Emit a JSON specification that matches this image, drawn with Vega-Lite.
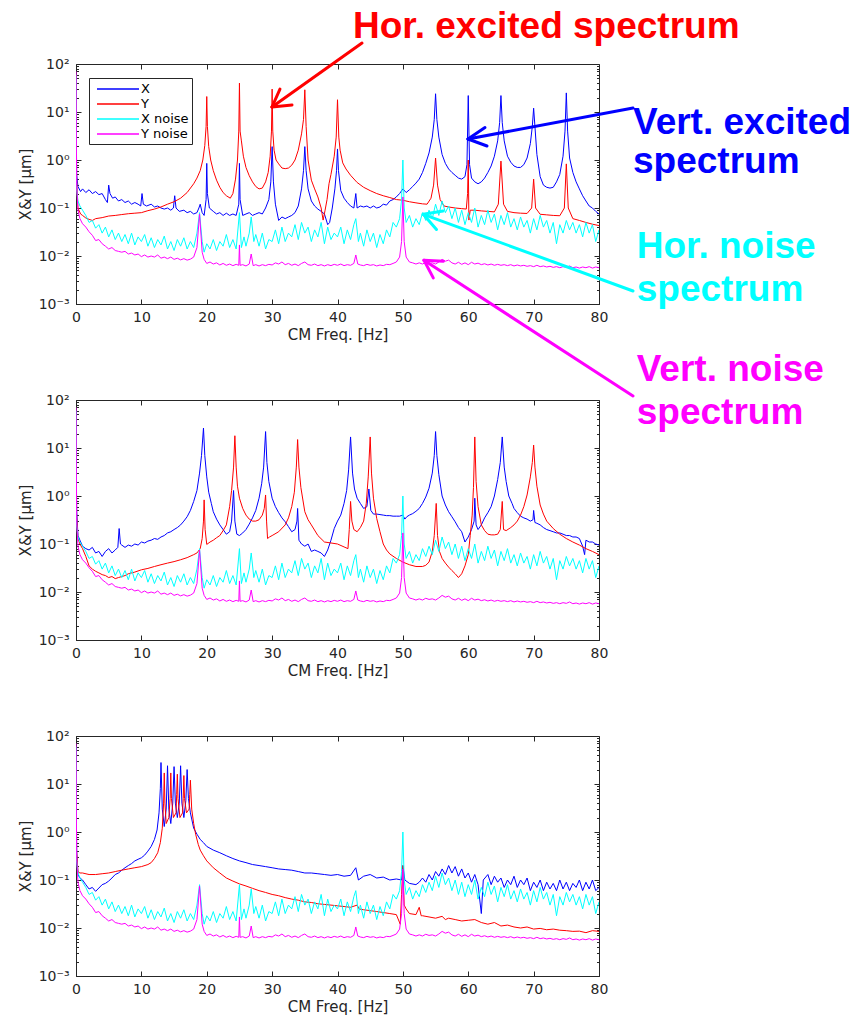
{
"$schema": "https://vega.github.io/schema/vega-lite/v6.json",
"padding": {"left": 17, "top": 7, "right": 5, "bottom": 2},
"bounds": "flush",
"spacing": 96,
"config": {
  "font": "DejaVu Sans",
  "view": {"stroke": "#262626", "strokeWidth": 1},
  "axis": {"labelFont": "DejaVu Sans", "labelFontSize": 14, "labelColor": "#262626", "titleFont": "DejaVu Sans", "titleFontSize": 15, "titleFontWeight": "normal", "titleColor": "#262626", "domainColor": "#262626", "tickColor": "#262626", "grid": false, "labelFlush": false, "labelOverlap": false}
},
"resolve": {"legend": {"stroke": "independent"}, "scale": {"stroke": "independent", "color": "independent"}},
"datasets": {
"xn": [{"f":0,"v":60},{"f":0.1,"v":0.25},{"f":0.3,"v":0.14},{"f":0.6,"v":0.11},{"f":1,"v":0.09},{"f":1.5,"v":0.07},{"f":2,"v":0.05},{"f":2.5,"v":0.055},{"f":3,"v":0.038},{"f":3.5,"v":0.045},{"f":4,"v":0.03},{"f":4.5,"v":0.04},{"f":5,"v":0.025},{"f":5.5,"v":0.035},{"f":6,"v":0.022},{"f":6.5,"v":0.03},{"f":7,"v":0.02},{"f":7.5,"v":0.028},{"f":8,"v":0.018},{"f":8.5,"v":0.03},{"f":9,"v":0.017},{"f":9.5,"v":0.025},{"f":10,"v":0.02},{"f":10.5,"v":0.028},{"f":11,"v":0.016},{"f":11.5,"v":0.024},{"f":12,"v":0.015},{"f":12.5,"v":0.022},{"f":13,"v":0.017},{"f":13.5,"v":0.026},{"f":14,"v":0.014},{"f":14.5,"v":0.02},{"f":15,"v":0.013},{"f":15.5,"v":0.022},{"f":16,"v":0.016},{"f":16.5,"v":0.024},{"f":17,"v":0.014},{"f":17.5,"v":0.02},{"f":18,"v":0.015},{"f":18.5,"v":0.03},{"f":18.9,"v":0.08},{"f":19.3,"v":0.02},{"f":19.6,"v":0.012},{"f":20,"v":0.018},{"f":20.5,"v":0.014},{"f":21,"v":0.022},{"f":21.5,"v":0.013},{"f":22,"v":0.02},{"f":22.5,"v":0.016},{"f":23,"v":0.028},{"f":23.5,"v":0.015},{"f":24,"v":0.022},{"f":24.5,"v":0.014},{"f":25,"v":0.08},{"f":25.3,"v":0.015},{"f":25.7,"v":0.025},{"f":26,"v":0.016},{"f":26.5,"v":0.03},{"f":26.8,"v":0.065},{"f":27.2,"v":0.02},{"f":27.5,"v":0.028},{"f":28,"v":0.016},{"f":28.5,"v":0.03},{"f":29,"v":0.014},{"f":29.5,"v":0.022},{"f":30,"v":0.02},{"f":30.5,"v":0.035},{"f":31,"v":0.018},{"f":31.5,"v":0.04},{"f":32,"v":0.02},{"f":32.5,"v":0.03},{"f":33,"v":0.025},{"f":33.5,"v":0.045},{"f":34,"v":0.022},{"f":34.5,"v":0.05},{"f":35,"v":0.03},{"f":35.5,"v":0.04},{"f":36,"v":0.02},{"f":36.5,"v":0.035},{"f":37,"v":0.025},{"f":37.5,"v":0.05},{"f":38,"v":0.018},{"f":38.5,"v":0.04},{"f":39,"v":0.022},{"f":39.5,"v":0.03},{"f":40,"v":0.025},{"f":40.5,"v":0.04},{"f":41,"v":0.018},{"f":41.5,"v":0.035},{"f":42,"v":0.022},{"f":42.5,"v":0.045},{"f":42.8,"v":0.06},{"f":43.2,"v":0.02},{"f":43.5,"v":0.03},{"f":44,"v":0.016},{"f":44.5,"v":0.035},{"f":45,"v":0.02},{"f":45.5,"v":0.03},{"f":46,"v":0.015},{"f":46.5,"v":0.028},{"f":47,"v":0.018},{"f":47.5,"v":0.035},{"f":48,"v":0.025},{"f":48.5,"v":0.05},{"f":49,"v":0.04},{"f":49.5,"v":0.06},{"f":49.8,"v":0.15},{"f":50,"v":1.0},{"f":50.2,"v":0.1},{"f":50.5,"v":0.05},{"f":51,"v":0.07},{"f":51.5,"v":0.04},{"f":52,"v":0.06},{"f":52.5,"v":0.045},{"f":53,"v":0.08},{"f":53.5,"v":0.055},{"f":54,"v":0.09},{"f":54.5,"v":0.06},{"f":55,"v":0.12},{"f":55.5,"v":0.07},{"f":56,"v":0.14},{"f":56.5,"v":0.08},{"f":57,"v":0.11},{"f":57.5,"v":0.06},{"f":58,"v":0.1},{"f":58.5,"v":0.05},{"f":59,"v":0.09},{"f":59.5,"v":0.045},{"f":60,"v":0.08},{"f":60.5,"v":0.05},{"f":61,"v":0.1},{"f":61.5,"v":0.04},{"f":62,"v":0.07},{"f":62.5,"v":0.045},{"f":63,"v":0.09},{"f":63.5,"v":0.05},{"f":64,"v":0.075},{"f":64.5,"v":0.035},{"f":65,"v":0.07},{"f":65.5,"v":0.045},{"f":66,"v":0.08},{"f":66.5,"v":0.04},{"f":67,"v":0.06},{"f":67.5,"v":0.035},{"f":68,"v":0.065},{"f":68.5,"v":0.04},{"f":69,"v":0.055},{"f":69.5,"v":0.03},{"f":70,"v":0.06},{"f":70.5,"v":0.035},{"f":71,"v":0.07},{"f":71.5,"v":0.04},{"f":72,"v":0.055},{"f":72.5,"v":0.03},{"f":73,"v":0.05},{"f":73.5,"v":0.018},{"f":74,"v":0.045},{"f":74.5,"v":0.03},{"f":75,"v":0.055},{"f":75.5,"v":0.035},{"f":76,"v":0.05},{"f":76.5,"v":0.03},{"f":77,"v":0.045},{"f":77.5,"v":0.025},{"f":78,"v":0.05},{"f":78.5,"v":0.03},{"f":79,"v":0.045},{"f":79.5,"v":0.02},{"f":80,"v":0.035}],
"yn": [{"f":0,"v":70},{"f":0.1,"v":0.3},{"f":0.3,"v":0.09},{"f":0.6,"v":0.06},{"f":1,"v":0.047},{"f":1.5,"v":0.04},{"f":2,"v":0.032},{"f":2.5,"v":0.027},{"f":3,"v":0.021},{"f":3.5,"v":0.022},{"f":4,"v":0.018},{"f":4.5,"v":0.016},{"f":5,"v":0.014},{"f":5.5,"v":0.015},{"f":6,"v":0.013},{"f":6.5,"v":0.0125},{"f":7,"v":0.012},{"f":7.5,"v":0.0125},{"f":8,"v":0.011},{"f":8.5,"v":0.0115},{"f":9,"v":0.0105},{"f":9.5,"v":0.011},{"f":10,"v":0.0097},{"f":10.5,"v":0.0105},{"f":11,"v":0.0095},{"f":11.5,"v":0.01},{"f":12,"v":0.0095},{"f":12.5,"v":0.0105},{"f":13,"v":0.009},{"f":13.5,"v":0.0095},{"f":14,"v":0.0088},{"f":14.5,"v":0.0095},{"f":15,"v":0.0085},{"f":15.5,"v":0.009},{"f":16,"v":0.0083},{"f":16.5,"v":0.0088},{"f":17,"v":0.0082},{"f":17.5,"v":0.0086},{"f":18,"v":0.0095},{"f":18.5,"v":0.015},{"f":18.9,"v":0.075},{"f":19.3,"v":0.012},{"f":19.6,"v":0.0085},{"f":20,"v":0.007},{"f":20.5,"v":0.0075},{"f":21,"v":0.0068},{"f":21.5,"v":0.0072},{"f":22,"v":0.0065},{"f":22.5,"v":0.007},{"f":23,"v":0.0064},{"f":23.5,"v":0.0068},{"f":24,"v":0.0063},{"f":24.5,"v":0.0067},{"f":24.9,"v":0.0064},{"f":25,"v":0.017},{"f":25.1,"v":0.0064},{"f":25.5,"v":0.0066},{"f":26,"v":0.0062},{"f":26.5,"v":0.0068},{"f":26.8,"v":0.011},{"f":27.1,"v":0.0063},{"f":27.5,"v":0.0066},{"f":28,"v":0.0062},{"f":28.5,"v":0.0066},{"f":29,"v":0.0063},{"f":29.5,"v":0.0067},{"f":30,"v":0.0065},{"f":30.5,"v":0.0072},{"f":31,"v":0.0068},{"f":31.5,"v":0.0075},{"f":32,"v":0.0066},{"f":32.5,"v":0.007},{"f":33,"v":0.0064},{"f":33.5,"v":0.0068},{"f":34,"v":0.0063},{"f":34.5,"v":0.007},{"f":35,"v":0.0075},{"f":35.5,"v":0.0066},{"f":36,"v":0.0064},{"f":36.5,"v":0.0068},{"f":37,"v":0.0063},{"f":37.5,"v":0.0066},{"f":38,"v":0.0062},{"f":38.5,"v":0.0066},{"f":39,"v":0.0063},{"f":39.5,"v":0.0067},{"f":40,"v":0.0064},{"f":40.5,"v":0.0068},{"f":41,"v":0.0063},{"f":41.5,"v":0.0066},{"f":42,"v":0.0064},{"f":42.5,"v":0.007},{"f":42.8,"v":0.0105},{"f":43.1,"v":0.0068},{"f":43.5,"v":0.0065},{"f":44,"v":0.0063},{"f":44.5,"v":0.0067},{"f":45,"v":0.0064},{"f":45.5,"v":0.0066},{"f":46,"v":0.0062},{"f":46.5,"v":0.0065},{"f":47,"v":0.0063},{"f":47.5,"v":0.0067},{"f":48,"v":0.0066},{"f":48.5,"v":0.007},{"f":49,"v":0.0075},{"f":49.5,"v":0.0095},{"f":49.8,"v":0.02},{"f":50,"v":0.17},{"f":50.2,"v":0.02},{"f":50.5,"v":0.0095},{"f":51,"v":0.0075},{"f":51.5,"v":0.0072},{"f":52,"v":0.0068},{"f":52.5,"v":0.0072},{"f":53,"v":0.0068},{"f":53.5,"v":0.0074},{"f":54,"v":0.007},{"f":54.5,"v":0.0072},{"f":55,"v":0.0068},{"f":55.5,"v":0.0075},{"f":56,"v":0.0085},{"f":56.5,"v":0.0078},{"f":57,"v":0.0082},{"f":57.5,"v":0.0072},{"f":58,"v":0.0068},{"f":58.5,"v":0.0074},{"f":59,"v":0.0067},{"f":59.5,"v":0.0072},{"f":60,"v":0.0066},{"f":60.5,"v":0.0074},{"f":61,"v":0.0068},{"f":61.5,"v":0.0071},{"f":62,"v":0.0066},{"f":62.5,"v":0.0069},{"f":63,"v":0.0065},{"f":63.5,"v":0.0068},{"f":64,"v":0.0064},{"f":64.5,"v":0.0067},{"f":65,"v":0.0064},{"f":65.5,"v":0.0066},{"f":66,"v":0.0063},{"f":66.5,"v":0.0066},{"f":67,"v":0.0062},{"f":67.5,"v":0.0065},{"f":68,"v":0.0062},{"f":68.5,"v":0.0064},{"f":69,"v":0.0061},{"f":69.5,"v":0.0063},{"f":70,"v":0.006},{"f":70.5,"v":0.0064},{"f":71,"v":0.006},{"f":71.5,"v":0.0062},{"f":72,"v":0.0059},{"f":72.5,"v":0.0061},{"f":73,"v":0.0058},{"f":73.5,"v":0.006},{"f":74,"v":0.0057},{"f":74.5,"v":0.006},{"f":75,"v":0.0058},{"f":75.5,"v":0.0062},{"f":76,"v":0.0057},{"f":76.5,"v":0.0059},{"f":77,"v":0.0056},{"f":77.5,"v":0.0059},{"f":78,"v":0.0057},{"f":78.5,"v":0.006},{"f":79,"v":0.0056},{"f":79.5,"v":0.0059},{"f":80,"v":0.0057}],
"p1x": [{"f":0,"v":50},{"f":0.1,"v":0.5},{"f":0.3,"v":0.28},{"f":0.7,"v":0.22},{"f":1,"v":0.25},{"f":1.5,"v":0.21},{"f":2,"v":0.24},{"f":2.5,"v":0.2},{"f":3,"v":0.22},{"f":3.5,"v":0.19},{"f":4,"v":0.2},{"f":4.5,"v":0.15},{"f":4.8,"v":0.13},{"f":5,"v":0.3},{"f":5.2,"v":0.2},{"f":5.6,"v":0.16},{"f":6,"v":0.17},{"f":6.5,"v":0.14},{"f":7,"v":0.15},{"f":7.5,"v":0.13},{"f":8,"v":0.14},{"f":8.5,"v":0.12},{"f":9,"v":0.13},{"f":9.5,"v":0.12},{"f":9.9,"v":0.11},{"f":10.1,"v":0.2},{"f":10.3,"v":0.12},{"f":10.8,"v":0.11},{"f":11.5,"v":0.12},{"f":12,"v":0.105},{"f":12.5,"v":0.11},{"f":13,"v":0.1},{"f":13.5,"v":0.095},{"f":14,"v":0.1},{"f":14.5,"v":0.09},{"f":14.9,"v":0.1},{"f":15.1,"v":0.18},{"f":15.3,"v":0.1},{"f":15.8,"v":0.085},{"f":16.5,"v":0.09},{"f":17,"v":0.08},{"f":17.5,"v":0.085},{"f":18,"v":0.075},{"f":18.5,"v":0.08},{"f":18.8,"v":0.1},{"f":19,"v":0.12},{"f":19.3,"v":0.08},{"f":19.6,"v":0.07},{"f":19.9,"v":0.15},{"f":20,"v":0.85},{"f":20.1,"v":0.2},{"f":20.4,"v":0.1},{"f":21,"v":0.085},{"f":21.5,"v":0.075},{"f":22,"v":0.08},{"f":22.5,"v":0.07},{"f":23,"v":0.078},{"f":23.5,"v":0.07},{"f":24,"v":0.075},{"f":24.5,"v":0.07},{"f":24.9,"v":0.12},{"f":25,"v":0.85},{"f":25.1,"v":0.15},{"f":25.5,"v":0.07},{"f":26,"v":0.075},{"f":26.5,"v":0.08},{"f":27,"v":0.07},{"f":27.5,"v":0.075},{"f":28,"v":0.08},{"f":28.5,"v":0.075},{"f":29,"v":0.1},{"f":29.5,"v":0.15},{"f":29.8,"v":0.35},{"f":30,"v":1.9},{"f":30.2,"v":0.35},{"f":30.5,"v":0.12},{"f":31,"v":0.055},{"f":31.5,"v":0.065},{"f":32,"v":0.06},{"f":32.5,"v":0.065},{"f":33,"v":0.07},{"f":33.5,"v":0.08},{"f":34,"v":0.11},{"f":34.5,"v":0.25},{"f":34.8,"v":0.6},{"f":35,"v":1.9},{"f":35.2,"v":0.6},{"f":35.5,"v":0.25},{"f":36,"v":0.14},{"f":36.5,"v":0.11},{"f":37,"v":0.095},{"f":37.5,"v":0.085},{"f":38,"v":0.075},{"f":38.5,"v":0.045},{"f":38.8,"v":0.05},{"f":39.2,"v":0.1},{"f":39.6,"v":0.25},{"f":39.85,"v":0.6},{"f":40,"v":1.7},{"f":40.15,"v":0.6},{"f":40.5,"v":0.23},{"f":41,"v":0.16},{"f":41.5,"v":0.13},{"f":42,"v":0.11},{"f":42.5,"v":0.1},{"f":42.8,"v":0.2},{"f":43,"v":0.1},{"f":43.5,"v":0.11},{"f":44,"v":0.105},{"f":44.5,"v":0.11},{"f":45,"v":0.1},{"f":45.5,"v":0.11},{"f":46,"v":0.1},{"f":46.5,"v":0.105},{"f":47,"v":0.12},{"f":47.5,"v":0.115},{"f":48,"v":0.14},{"f":48.5,"v":0.15},{"f":49,"v":0.17},{"f":49.5,"v":0.2},{"f":50,"v":0.25},{"f":50.5,"v":0.21},{"f":51,"v":0.24},{"f":51.5,"v":0.28},{"f":52,"v":0.33},{"f":52.5,"v":0.4},{"f":53,"v":0.55},{"f":53.5,"v":0.85},{"f":54,"v":1.4},{"f":54.5,"v":3},{"f":54.8,"v":7},{"f":55,"v":24},{"f":55.2,"v":7},{"f":55.5,"v":3},{"f":56,"v":1.3},{"f":56.5,"v":0.85},{"f":57,"v":0.65},{"f":57.5,"v":0.55},{"f":58,"v":0.48},{"f":58.5,"v":0.42},{"f":59,"v":0.4},{"f":59.5,"v":0.45},{"f":59.8,"v":0.8},{"f":60,"v":22},{"f":60.2,"v":0.8},{"f":60.5,"v":0.42},{"f":61,"v":0.35},{"f":61.5,"v":0.32},{"f":62,"v":0.35},{"f":62.5,"v":0.42},{"f":63,"v":0.55},{"f":63.5,"v":0.75},{"f":64,"v":1.2},{"f":64.5,"v":2.5},{"f":64.8,"v":6},{"f":65,"v":22},{"f":65.2,"v":6},{"f":65.5,"v":2.5},{"f":66,"v":1.2},{"f":66.5,"v":0.9},{"f":67,"v":0.75},{"f":67.5,"v":0.7},{"f":68,"v":0.7},{"f":68.5,"v":0.8},{"f":69,"v":1.1},{"f":69.5,"v":2.2},{"f":69.8,"v":5},{"f":70,"v":12},{"f":70.2,"v":5},{"f":70.5,"v":1.3},{"f":71,"v":0.45},{"f":71.5,"v":0.3},{"f":72,"v":0.27},{"f":72.5,"v":0.26},{"f":73,"v":0.27},{"f":73.5,"v":0.35},{"f":74,"v":0.5},{"f":74.5,"v":1.2},{"f":74.8,"v":4},{"f":75,"v":25},{"f":75.2,"v":4},{"f":75.5,"v":1.1},{"f":76,"v":0.55},{"f":76.5,"v":0.35},{"f":77,"v":0.25},{"f":77.5,"v":0.18},{"f":78,"v":0.14},{"f":78.5,"v":0.11},{"f":79,"v":0.1},{"f":79.5,"v":0.085},{"f":80,"v":0.075}],
"p1y": [{"f":0,"v":60},{"f":0.1,"v":0.4},{"f":0.3,"v":0.1},{"f":0.7,"v":0.075},{"f":1,"v":0.07},{"f":1.5,"v":0.062},{"f":2,"v":0.058},{"f":2.5,"v":0.055},{"f":3,"v":0.06},{"f":4,"v":0.063},{"f":5,"v":0.068},{"f":6,"v":0.07},{"f":7,"v":0.073},{"f":8,"v":0.076},{"f":9,"v":0.078},{"f":10,"v":0.08},{"f":11,"v":0.088},{"f":12,"v":0.095},{"f":13,"v":0.105},{"f":14,"v":0.12},{"f":15,"v":0.135},{"f":16,"v":0.16},{"f":17,"v":0.21},{"f":18,"v":0.32},{"f":18.5,"v":0.42},{"f":19,"v":0.6},{"f":19.4,"v":1.0},{"f":19.7,"v":2.0},{"f":19.9,"v":5},{"f":20,"v":21},{"f":20.1,"v":5},{"f":20.3,"v":1.9},{"f":20.6,"v":1.0},{"f":21,"v":0.6},{"f":21.5,"v":0.38},{"f":22,"v":0.27},{"f":22.5,"v":0.21},{"f":23,"v":0.18},{"f":23.6,"v":0.16},{"f":24,"v":0.2},{"f":24.4,"v":0.4},{"f":24.7,"v":1},{"f":24.9,"v":4},{"f":25,"v":40},{"f":25.1,"v":4},{"f":25.3,"v":2.5},{"f":25.6,"v":1.2},{"f":26,"v":0.7},{"f":26.5,"v":0.47},{"f":27,"v":0.35},{"f":27.5,"v":0.28},{"f":28,"v":0.25},{"f":28.5,"v":0.26},{"f":29,"v":0.35},{"f":29.4,"v":0.55},{"f":29.7,"v":1.2},{"f":29.9,"v":4},{"f":30,"v":30},{"f":30.1,"v":4},{"f":30.3,"v":1.6},{"f":30.6,"v":1.0},{"f":31,"v":0.83},{"f":31.5,"v":0.68},{"f":32,"v":0.66},{"f":32.5,"v":0.68},{"f":33,"v":0.78},{"f":33.5,"v":1.0},{"f":34,"v":1.6},{"f":34.5,"v":3.5},{"f":34.8,"v":7},{"f":35,"v":29},{"f":35.2,"v":5},{"f":35.5,"v":1.0},{"f":36,"v":0.38},{"f":36.5,"v":0.25},{"f":37,"v":0.17},{"f":37.5,"v":0.1},{"f":37.8,"v":0.056},{"f":38.1,"v":0.09},{"f":38.4,"v":0.15},{"f":38.7,"v":0.32},{"f":39,"v":0.5},{"f":39.5,"v":1.2},{"f":39.8,"v":3},{"f":40,"v":18},{"f":40.2,"v":3},{"f":40.4,"v":1.6},{"f":40.8,"v":0.87},{"f":41.3,"v":0.65},{"f":42,"v":0.48},{"f":43,"v":0.34},{"f":44,"v":0.27},{"f":45,"v":0.23},{"f":46,"v":0.2},{"f":47,"v":0.18},{"f":48,"v":0.165},{"f":49,"v":0.15},{"f":50,"v":0.145},{"f":51,"v":0.135},{"f":52,"v":0.128},{"f":53,"v":0.122},{"f":53.7,"v":0.12},{"f":54.3,"v":0.16},{"f":54.7,"v":0.3},{"f":55,"v":1.1},{"f":55.3,"v":0.3},{"f":55.7,"v":0.15},{"f":56.3,"v":0.11},{"f":57,"v":0.105},{"f":58,"v":0.1},{"f":59,"v":0.097},{"f":59.7,"v":0.095},{"f":59.9,"v":0.2},{"f":60,"v":1.0},{"f":60.1,"v":0.056},{"f":60.3,"v":0.09},{"f":61,"v":0.09},{"f":62,"v":0.087},{"f":63,"v":0.085},{"f":64,"v":0.083},{"f":64.6,"v":0.12},{"f":65,"v":0.95},{"f":65.4,"v":0.12},{"f":66,"v":0.085},{"f":67,"v":0.08},{"f":68,"v":0.078},{"f":69,"v":0.077},{"f":69.7,"v":0.1},{"f":70,"v":0.4},{"f":70.3,"v":0.1},{"f":71,"v":0.074},{"f":72,"v":0.072},{"f":73,"v":0.07},{"f":74,"v":0.069},{"f":74.7,"v":0.1},{"f":75,"v":0.83},{"f":75.3,"v":0.1},{"f":76,"v":0.06},{"f":77,"v":0.055},{"f":78,"v":0.05},{"f":79,"v":0.046},{"f":80,"v":0.043}],
"p2x": [{"f":0,"v":50},{"f":0.1,"v":0.5},{"f":0.3,"v":0.15},{"f":0.6,"v":0.12},{"f":1,"v":0.09},{"f":1.5,"v":0.08},{"f":2,"v":0.075},{"f":2.5,"v":0.085},{"f":3,"v":0.065},{"f":3.5,"v":0.07},{"f":4,"v":0.055},{"f":4.5,"v":0.07},{"f":5,"v":0.08},{"f":5.5,"v":0.065},{"f":6,"v":0.075},{"f":6.4,"v":0.085},{"f":6.6,"v":0.21},{"f":6.8,"v":0.1},{"f":7,"v":0.095},{"f":7.5,"v":0.085},{"f":8,"v":0.095},{"f":8.5,"v":0.09},{"f":9,"v":0.1},{"f":9.5,"v":0.095},{"f":10,"v":0.11},{"f":10.5,"v":0.105},{"f":11,"v":0.115},{"f":11.5,"v":0.12},{"f":12,"v":0.13},{"f":12.5,"v":0.125},{"f":13,"v":0.14},{"f":13.5,"v":0.15},{"f":14,"v":0.17},{"f":14.5,"v":0.18},{"f":15,"v":0.2},{"f":15.5,"v":0.22},{"f":16,"v":0.25},{"f":16.5,"v":0.3},{"f":17,"v":0.37},{"f":17.5,"v":0.5},{"f":18,"v":0.77},{"f":18.5,"v":1.3},{"f":18.9,"v":3},{"f":19.2,"v":7},{"f":19.5,"v":26},{"f":19.7,"v":7},{"f":20,"v":2.5},{"f":20.3,"v":1.2},{"f":20.7,"v":0.7},{"f":21,"v":0.47},{"f":21.5,"v":0.33},{"f":22,"v":0.25},{"f":22.5,"v":0.2},{"f":23,"v":0.16},{"f":23.5,"v":0.18},{"f":23.8,"v":0.3},{"f":24.1,"v":1.3},{"f":24.3,"v":0.3},{"f":24.6,"v":0.16},{"f":25,"v":0.15},{"f":25.5,"v":0.17},{"f":26,"v":0.2},{"f":26.5,"v":0.26},{"f":27,"v":0.35},{"f":27.5,"v":0.5},{"f":28,"v":0.9},{"f":28.4,"v":1.8},{"f":28.7,"v":4},{"f":29,"v":22},{"f":29.2,"v":5},{"f":29.5,"v":2},{"f":30,"v":0.9},{"f":30.5,"v":0.6},{"f":31,"v":0.45},{"f":31.5,"v":0.35},{"f":32,"v":0.29},{"f":32.5,"v":0.23},{"f":33,"v":0.18},{"f":33.5,"v":0.2},{"f":33.8,"v":0.3},{"f":33.9,"v":0.55},{"f":34.1,"v":0.12},{"f":34.5,"v":0.1},{"f":35,"v":0.09},{"f":35.5,"v":0.1},{"f":36,"v":0.07},{"f":36.5,"v":0.075},{"f":37,"v":0.07},{"f":37.5,"v":0.065},{"f":38,"v":0.055},{"f":38.5,"v":0.075},{"f":39,"v":0.12},{"f":39.5,"v":0.21},{"f":40,"v":0.3},{"f":40.5,"v":0.4},{"f":41,"v":0.7},{"f":41.4,"v":1.3},{"f":41.7,"v":3.5},{"f":42,"v":17},{"f":42.3,"v":3},{"f":42.6,"v":1.4},{"f":43,"v":0.9},{"f":43.5,"v":0.7},{"f":44,"v":0.55},{"f":44.5,"v":0.6},{"f":44.8,"v":1.4},{"f":45.1,"v":0.5},{"f":45.5,"v":0.42},{"f":46,"v":0.42},{"f":46.5,"v":0.41},{"f":47,"v":0.4},{"f":47.5,"v":0.39},{"f":48,"v":0.39},{"f":48.5,"v":0.38},{"f":49,"v":0.38},{"f":49.5,"v":0.38},{"f":50,"v":0.4},{"f":50.3,"v":0.33},{"f":50.6,"v":0.37},{"f":51,"v":0.4},{"f":51.5,"v":0.43},{"f":52,"v":0.48},{"f":52.5,"v":0.55},{"f":53,"v":0.7},{"f":53.5,"v":0.95},{"f":54,"v":1.45},{"f":54.5,"v":3},{"f":54.8,"v":7},{"f":55,"v":22},{"f":55.2,"v":7},{"f":55.5,"v":2.8},{"f":56,"v":1.0},{"f":56.5,"v":0.65},{"f":57,"v":0.47},{"f":57.5,"v":0.37},{"f":58,"v":0.29},{"f":58.5,"v":0.22},{"f":59,"v":0.18},{"f":59.5,"v":0.11},{"f":60,"v":0.14},{"f":60.5,"v":0.2},{"f":60.9,"v":0.3},{"f":61,"v":0.9},{"f":61.2,"v":0.25},{"f":61.5,"v":0.2},{"f":62,"v":0.25},{"f":62.5,"v":0.35},{"f":63,"v":0.45},{"f":63.5,"v":0.6},{"f":64,"v":1.0},{"f":64.5,"v":2.2},{"f":64.9,"v":5},{"f":65.2,"v":17},{"f":65.5,"v":4},{"f":65.8,"v":2},{"f":66.2,"v":1.0},{"f":66.7,"v":0.7},{"f":67,"v":0.55},{"f":67.5,"v":0.45},{"f":68,"v":0.38},{"f":68.5,"v":0.35},{"f":69,"v":0.33},{"f":69.5,"v":0.3},{"f":69.9,"v":0.32},{"f":70,"v":0.5},{"f":70.2,"v":0.28},{"f":70.5,"v":0.27},{"f":71,"v":0.25},{"f":71.5,"v":0.22},{"f":72,"v":0.2},{"f":72.5,"v":0.19},{"f":73,"v":0.18},{"f":73.5,"v":0.17},{"f":74,"v":0.17},{"f":74.5,"v":0.16},{"f":75,"v":0.15},{"f":75.5,"v":0.15},{"f":76,"v":0.14},{"f":76.5,"v":0.14},{"f":77,"v":0.13},{"f":77.5,"v":0.09},{"f":77.8,"v":0.06},{"f":78,"v":0.12},{"f":78.5,"v":0.11},{"f":79,"v":0.11},{"f":79.5,"v":0.1},{"f":80,"v":0.095}],
"p2y": [{"f":0,"v":50},{"f":0.1,"v":0.4},{"f":0.3,"v":0.13},{"f":0.6,"v":0.1},{"f":1,"v":0.08},{"f":1.5,"v":0.055},{"f":2,"v":0.035},{"f":2.5,"v":0.03},{"f":3,"v":0.027},{"f":3.5,"v":0.025},{"f":4,"v":0.023},{"f":4.5,"v":0.022},{"f":5,"v":0.02},{"f":5.5,"v":0.021},{"f":6,"v":0.019},{"f":6.5,"v":0.02},{"f":7,"v":0.021},{"f":7.5,"v":0.022},{"f":8,"v":0.024},{"f":9,"v":0.026},{"f":10,"v":0.029},{"f":11,"v":0.031},{"f":12,"v":0.034},{"f":13,"v":0.037},{"f":14,"v":0.04},{"f":15,"v":0.043},{"f":16,"v":0.047},{"f":17,"v":0.052},{"f":18,"v":0.06},{"f":18.5,"v":0.065},{"f":19,"v":0.08},{"f":19.3,"v":0.13},{"f":19.5,"v":0.3},{"f":19.6,"v":0.83},{"f":19.75,"v":0.2},{"f":20,"v":0.098},{"f":20.5,"v":0.11},{"f":21,"v":0.12},{"f":21.5,"v":0.135},{"f":22,"v":0.15},{"f":22.5,"v":0.19},{"f":23,"v":0.25},{"f":23.5,"v":0.6},{"f":23.8,"v":1.3},{"f":24.1,"v":4},{"f":24.3,"v":18},{"f":24.5,"v":4},{"f":24.7,"v":1.6},{"f":25,"v":0.9},{"f":25.5,"v":0.55},{"f":26,"v":0.4},{"f":26.5,"v":0.33},{"f":27,"v":0.3},{"f":27.5,"v":0.3},{"f":28,"v":0.32},{"f":28.5,"v":0.4},{"f":28.8,"v":0.55},{"f":29,"v":1.05},{"f":29.15,"v":0.3},{"f":29.3,"v":0.13},{"f":29.6,"v":0.14},{"f":30,"v":0.15},{"f":31,"v":0.18},{"f":32,"v":0.25},{"f":32.5,"v":0.35},{"f":33,"v":0.6},{"f":33.4,"v":1.2},{"f":33.7,"v":4},{"f":33.9,"v":15},{"f":34.1,"v":4},{"f":34.4,"v":1.5},{"f":35,"v":0.47},{"f":35.5,"v":0.32},{"f":36,"v":0.25},{"f":37,"v":0.15},{"f":38,"v":0.11},{"f":39,"v":0.105},{"f":40,"v":0.1},{"f":41,"v":0.087},{"f":41.6,"v":0.08},{"f":41.8,"v":0.2},{"f":42,"v":0.77},{"f":42.2,"v":0.3},{"f":42.5,"v":0.2},{"f":43,"v":0.18},{"f":43.5,"v":0.22},{"f":44,"v":0.3},{"f":44.4,"v":0.7},{"f":44.7,"v":2.5},{"f":45,"v":17},{"f":45.2,"v":3},{"f":45.5,"v":0.9},{"f":46,"v":0.34},{"f":46.5,"v":0.18},{"f":47,"v":0.1},{"f":47.5,"v":0.075},{"f":48,"v":0.062},{"f":49,"v":0.05},{"f":50,"v":0.042},{"f":51,"v":0.037},{"f":52,"v":0.034},{"f":53,"v":0.034},{"f":53.5,"v":0.036},{"f":54,"v":0.042},{"f":54.5,"v":0.07},{"f":54.8,"v":0.15},{"f":55.1,"v":0.7},{"f":55.3,"v":0.15},{"f":55.6,"v":0.07},{"f":56,"v":0.05},{"f":56.5,"v":0.04},{"f":57,"v":0.033},{"f":57.5,"v":0.028},{"f":58,"v":0.024},{"f":58.5,"v":0.02},{"f":59,"v":0.024},{"f":59.5,"v":0.035},{"f":60,"v":0.06},{"f":60.3,"v":0.15},{"f":60.6,"v":0.4},{"f":60.8,"v":1.5},{"f":61,"v":17},{"f":61.2,"v":2},{"f":61.5,"v":0.6},{"f":62,"v":0.25},{"f":62.5,"v":0.19},{"f":63,"v":0.16},{"f":63.5,"v":0.155},{"f":64,"v":0.155},{"f":64.5,"v":0.16},{"f":64.9,"v":0.2},{"f":65.2,"v":0.77},{"f":65.4,"v":0.2},{"f":65.8,"v":0.19},{"f":66.5,"v":0.22},{"f":67,"v":0.25},{"f":67.5,"v":0.3},{"f":68,"v":0.4},{"f":68.5,"v":0.6},{"f":69,"v":1.05},{"f":69.5,"v":2.5},{"f":69.8,"v":5},{"f":70,"v":11.5},{"f":70.2,"v":4},{"f":70.5,"v":1.6},{"f":71,"v":0.65},{"f":71.5,"v":0.42},{"f":72,"v":0.3},{"f":73,"v":0.21},{"f":74,"v":0.16},{"f":75,"v":0.13},{"f":76,"v":0.11},{"f":77,"v":0.095},{"f":78,"v":0.08},{"f":79,"v":0.07},{"f":80,"v":0.06}],
"p3x": [{"f":0,"v":50},{"f":0.1,"v":0.4},{"f":0.3,"v":0.13},{"f":0.6,"v":0.11},{"f":1,"v":0.1},{"f":1.5,"v":0.08},{"f":2,"v":0.065},{"f":2.5,"v":0.07},{"f":3,"v":0.058},{"f":3.5,"v":0.068},{"f":4,"v":0.08},{"f":4.5,"v":0.085},{"f":5,"v":0.095},{"f":5.5,"v":0.11},{"f":6,"v":0.13},{"f":6.5,"v":0.14},{"f":7,"v":0.16},{"f":7.5,"v":0.18},{"f":8,"v":0.2},{"f":8.5,"v":0.22},{"f":9,"v":0.25},{"f":9.5,"v":0.27},{"f":10,"v":0.29},{"f":10.5,"v":0.33},{"f":11,"v":0.4},{"f":11.5,"v":0.5},{"f":12,"v":0.7},{"f":12.4,"v":1.1},{"f":12.7,"v":2.5},{"f":12.9,"v":8},{"f":13,"v":28},{"f":13.2,"v":3},{"f":13.5,"v":1.3},{"f":13.8,"v":3},{"f":14,"v":24},{"f":14.2,"v":3},{"f":14.5,"v":1.5},{"f":14.8,"v":4},{"f":15,"v":23},{"f":15.2,"v":4},{"f":15.5,"v":2},{"f":15.8,"v":4},{"f":16,"v":24},{"f":16.2,"v":4},{"f":16.5,"v":2},{"f":16.8,"v":4.5},{"f":17,"v":20},{"f":17.2,"v":5},{"f":17.5,"v":2.5},{"f":18,"v":1.2},{"f":18.5,"v":0.9},{"f":19,"v":0.7},{"f":19.5,"v":0.6},{"f":20,"v":0.5},{"f":21,"v":0.42},{"f":22,"v":0.37},{"f":23,"v":0.32},{"f":24,"v":0.28},{"f":25,"v":0.25},{"f":26,"v":0.23},{"f":27,"v":0.21},{"f":28,"v":0.2},{"f":29,"v":0.19},{"f":30,"v":0.18},{"f":31,"v":0.17},{"f":32,"v":0.165},{"f":33,"v":0.16},{"f":34,"v":0.15},{"f":35,"v":0.14},{"f":36,"v":0.14},{"f":37,"v":0.135},{"f":38,"v":0.13},{"f":39,"v":0.125},{"f":40,"v":0.13},{"f":41,"v":0.12},{"f":42,"v":0.125},{"f":42.8,"v":0.18},{"f":43.2,"v":0.1},{"f":44,"v":0.12},{"f":45,"v":0.13},{"f":46,"v":0.11},{"f":47,"v":0.115},{"f":48,"v":0.1},{"f":49,"v":0.105},{"f":49.8,"v":0.1},{"f":50,"v":0.2},{"f":50.3,"v":0.1},{"f":51,"v":0.085},{"f":52,"v":0.08},{"f":52.5,"v":0.09},{"f":53,"v":0.11},{"f":53.5,"v":0.09},{"f":54,"v":0.13},{"f":54.5,"v":0.1},{"f":55,"v":0.15},{"f":55.5,"v":0.12},{"f":56,"v":0.17},{"f":56.5,"v":0.13},{"f":57,"v":0.2},{"f":57.5,"v":0.14},{"f":58,"v":0.19},{"f":58.5,"v":0.12},{"f":59,"v":0.17},{"f":59.5,"v":0.11},{"f":60,"v":0.14},{"f":60.5,"v":0.09},{"f":61,"v":0.13},{"f":61.5,"v":0.08},{"f":62,"v":0.02},{"f":62.3,"v":0.1},{"f":63,"v":0.13},{"f":63.5,"v":0.08},{"f":64,"v":0.12},{"f":64.5,"v":0.09},{"f":65,"v":0.11},{"f":65.5,"v":0.07},{"f":66,"v":0.1},{"f":66.5,"v":0.08},{"f":67,"v":0.12},{"f":67.5,"v":0.07},{"f":68,"v":0.1},{"f":68.5,"v":0.08},{"f":69,"v":0.11},{"f":69.5,"v":0.06},{"f":70,"v":0.09},{"f":70.5,"v":0.07},{"f":71,"v":0.1},{"f":71.5,"v":0.06},{"f":72,"v":0.09},{"f":72.5,"v":0.065},{"f":73,"v":0.085},{"f":73.5,"v":0.06},{"f":74,"v":0.1},{"f":74.5,"v":0.065},{"f":75,"v":0.09},{"f":75.5,"v":0.06},{"f":76,"v":0.085},{"f":76.5,"v":0.07},{"f":77,"v":0.1},{"f":77.5,"v":0.06},{"f":78,"v":0.09},{"f":78.5,"v":0.065},{"f":79,"v":0.1},{"f":79.5,"v":0.06},{"f":80,"v":0.07}],
"p3y": [{"f":0,"v":50},{"f":0.1,"v":0.4},{"f":0.3,"v":0.15},{"f":0.6,"v":0.14},{"f":1,"v":0.14},{"f":2,"v":0.13},{"f":3,"v":0.13},{"f":4,"v":0.135},{"f":5,"v":0.14},{"f":6,"v":0.15},{"f":7,"v":0.16},{"f":8,"v":0.17},{"f":9,"v":0.18},{"f":10,"v":0.19},{"f":11,"v":0.21},{"f":11.5,"v":0.23},{"f":12,"v":0.28},{"f":12.5,"v":0.37},{"f":12.9,"v":0.6},{"f":13.2,"v":1.2},{"f":13.4,"v":4},{"f":13.5,"v":17},{"f":13.6,"v":4},{"f":13.8,"v":1.5},{"f":14.2,"v":2},{"f":14.4,"v":5},{"f":14.5,"v":17},{"f":14.6,"v":5},{"f":14.9,"v":2},{"f":15.3,"v":2.5},{"f":15.4,"v":6},{"f":15.5,"v":16},{"f":15.6,"v":5},{"f":15.9,"v":2},{"f":16.3,"v":2.5},{"f":16.4,"v":5},{"f":16.5,"v":15},{"f":16.6,"v":5},{"f":16.9,"v":2.5},{"f":17.3,"v":3},{"f":17.4,"v":6},{"f":17.5,"v":12},{"f":17.7,"v":3},{"f":18,"v":1.5},{"f":18.3,"v":0.9},{"f":18.7,"v":0.55},{"f":19,"v":0.42},{"f":19.5,"v":0.32},{"f":20,"v":0.25},{"f":21,"v":0.18},{"f":22,"v":0.14},{"f":23,"v":0.11},{"f":24,"v":0.095},{"f":25,"v":0.083},{"f":26,"v":0.075},{"f":27,"v":0.067},{"f":28,"v":0.06},{"f":29,"v":0.055},{"f":30,"v":0.05},{"f":31,"v":0.047},{"f":32,"v":0.043},{"f":33,"v":0.04},{"f":34,"v":0.038},{"f":35,"v":0.035},{"f":36,"v":0.034},{"f":37,"v":0.032},{"f":38,"v":0.031},{"f":39,"v":0.03},{"f":40,"v":0.029},{"f":41,"v":0.028},{"f":42,"v":0.027},{"f":43,"v":0.03},{"f":43.3,"v":0.025},{"f":44,"v":0.024},{"f":45,"v":0.023},{"f":46,"v":0.022},{"f":47,"v":0.021},{"f":48,"v":0.02},{"f":49,"v":0.019},{"f":49.6,"v":0.012},{"f":49.8,"v":0.05},{"f":50,"v":0.2},{"f":50.2,"v":0.03},{"f":50.5,"v":0.025},{"f":51,"v":0.02},{"f":52,"v":0.019},{"f":52.5,"v":0.027},{"f":52.8,"v":0.018},{"f":53,"v":0.018},{"f":54,"v":0.017},{"f":55,"v":0.016},{"f":56,"v":0.0175},{"f":56.5,"v":0.015},{"f":57,"v":0.016},{"f":58,"v":0.015},{"f":59,"v":0.014},{"f":60,"v":0.0145},{"f":61,"v":0.015},{"f":62,"v":0.013},{"f":63,"v":0.012},{"f":64,"v":0.013},{"f":65,"v":0.011},{"f":66,"v":0.0115},{"f":67,"v":0.0105},{"f":68,"v":0.01},{"f":69,"v":0.0105},{"f":70,"v":0.0095},{"f":71,"v":0.0098},{"f":72,"v":0.0092},{"f":73,"v":0.0095},{"f":74,"v":0.009},{"f":75,"v":0.0088},{"f":76,"v":0.0085},{"f":77,"v":0.0086},{"f":78,"v":0.008},{"f":79,"v":0.0088},{"f":80,"v":0.0085}],
"ann": [{"f":42.37,"v":348,"t":"Hor. excited spectrum","k":"hx"},{"f":85.2,"v":3.48,"t":"Vert. excited","k":"vx"},{"f":85.2,"v":0.536,"t":"spectrum","k":"vx"},{"f":85.77,"v":0.00909,"t":"Hor. noise","k":"hn"},{"f":85.77,"v":0.001155,"t":"spectrum","k":"hn"},{"f":85.77,"v":0.0000249,"t":"Vert. noise","k":"vn"},{"f":85.77,"v":0.00000316,"t":"spectrum","k":"vn"}],
"arr": [{"k":"hx","x":43.75,"y":273.8,"x2":29.98,"y2":12.71},{"k":"hx","x":33.04,"y":13.99,"x2":29.98,"y2":12.71},{"k":"hx","x":31.2,"y":30.1,"x2":29.98,"y2":12.71},{"k":"vx","x":85.2,"y":12.12,"x2":59.96,"y2":2.738},{"k":"vx","x":62.87,"y":1.957,"x2":59.96,"y2":2.738},{"k":"vx","x":62.56,"y":4.75,"x2":59.96,"y2":2.738},{"k":"hn","x":85.2,"y":0.001866,"x2":53.12,"y2":0.07396},{"k":"hn","x":55.14,"y":0.03565,"x2":53.12,"y2":0.07396},{"k":"hn","x":56.14,"y":0.0866,"x2":53.12,"y2":0.07396},{"k":"vn","x":85.2,"y":0.00001212,"x2":53.23,"y2":0.008134},{"k":"vn","x":54.65,"y":0.0035,"x2":53.23,"y2":0.008134},{"k":"vn","x":56.21,"y":0.00776,"x2":53.23,"y2":0.008134}]
},
"vconcat": [
{
 "width": 523, "height": 240,
 "resolve": {"axis": {"x": "independent", "y": "independent"}},
 "layer": [
  {"data": {"name": "p1x"}, "mark": {"type": "line", "strokeWidth": 1, "clip": true},
   "encoding": {
    "x": {"field": "f", "type": "quantitative", "scale": {"domain": [0, 80], "nice": false, "zero": false},
          "axis": {"orient": "bottom", "values": [0,10,20,30,40,50,60,70,80], "title": "CM Freq. [Hz]", "tickSize": -5, "labelPadding": 11, "titlePadding": 3}},
    "y": {"field": "v", "type": "quantitative", "scale": {"type": "log", "domain": [0.001, 100], "nice": false},
          "axis": {"orient": "left", "values": [0.001,0.002,0.003,0.004,0.005,0.006,0.007,0.008,0.009,0.01,0.02,0.03,0.04,0.05,0.06,0.07,0.08,0.09,0.1,0.2,0.3,0.4,0.5,0.6,0.7,0.8,0.9,1,2,3,4,5,6,7,8,9,10,20,30,40,50,60,70,80,90,100],
           "tickSize": {"condition": {"test": "abs(log(datum.value)/LN10 - round(log(datum.value)/LN10)) < 0.01", "value": -5}, "value": -2.5},
           "labelExpr": "abs(log(datum.value)/LN10 - round(log(datum.value)/LN10)) > 0.01 ? '' : '10' + (round(log(datum.value)/LN10) == 2 ? '²' : round(log(datum.value)/LN10) == 1 ? '¹' : round(log(datum.value)/LN10) == 0 ? '⁰' : round(log(datum.value)/LN10) == -1 ? '⁻¹' : round(log(datum.value)/LN10) == -2 ? '⁻²' : '⁻³')",
           "labelPadding": 12, "title": "X&Y [μm]", "titlePadding": 5}},
    "stroke": {"datum": "X", "type": "nominal",
       "scale": {"domain": ["X", "Y", "X noise", "Y noise"], "range": ["#0000ff", "#ff0000", "#00ffff", "#ff00ff"]},
       "legend": {"orient": "none", "legendX": 13, "legendY": 14, "title": null, "symbolType": "M0,0H6", "symbolSize": 196, "symbolStrokeWidth": 1.5, "symbolFillColor": "transparent", "symbolOffset": -3, "labelFont": "DejaVu Sans", "labelFontSize": 13, "labelColor": "#000000", "strokeColor": "#262626", "fillColor": "#ffffff", "padding": 3, "rowPadding": 0, "labelOffset": 36}}
   }},
  {"data": {"name": "p1y"}, "mark": {"type": "line", "strokeWidth": 1, "clip": true},
   "encoding": {
    "x": {"field": "f", "type": "quantitative", "axis": {"orient": "top", "values": [10,20,30,40,50,60,70], "labels": false, "title": null, "tickSize": -5, "domain": false}},
    "y": {"field": "v", "type": "quantitative", "axis": {"orient": "right", "values": [0.001,0.002,0.003,0.004,0.005,0.006,0.007,0.008,0.009,0.01,0.02,0.03,0.04,0.05,0.06,0.07,0.08,0.09,0.1,0.2,0.3,0.4,0.5,0.6,0.7,0.8,0.9,1,2,3,4,5,6,7,8,9,10,20,30,40,50,60,70,80,90,100],
       "tickSize": {"condition": {"test": "abs(log(datum.value)/LN10 - round(log(datum.value)/LN10)) < 0.01", "value": -5}, "value": -2.5}, "labels": false, "title": null, "domain": false}},
    "stroke": {"datum": "Y", "type": "nominal"}
   }},
  {"data": {"name": "xn"}, "mark": {"type": "line", "strokeWidth": 1, "clip": true},
   "encoding": {"x": {"field": "f", "type": "quantitative", "axis": null}, "y": {"field": "v", "type": "quantitative", "axis": null}, "stroke": {"datum": "X noise", "type": "nominal"}}},
  {"data": {"name": "yn"}, "mark": {"type": "line", "strokeWidth": 1, "clip": true},
   "encoding": {"x": {"field": "f", "type": "quantitative", "axis": null}, "y": {"field": "v", "type": "quantitative", "axis": null}, "stroke": {"datum": "Y noise", "type": "nominal"}}},
  {"data": {"name": "arr"}, "mark": {"type": "rule", "strokeWidth": 3, "strokeCap": "round", "clip": false},
   "encoding": {"x": {"field": "x", "type": "quantitative", "axis": null}, "y": {"field": "y", "type": "quantitative", "axis": null},
    "x2": {"field": "x2"}, "y2": {"field": "y2"},
    "color": {"field": "k", "type": "nominal", "scale": {"domain": ["hx", "vx", "hn", "vn"], "range": ["#ff0000", "#0000ff", "#00ffff", "#ff00ff"]}, "legend": null}}},
  {"data": {"name": "ann"}, "mark": {"type": "text", "font": "Liberation Sans", "fontWeight": "bold", "fontSize": 37, "align": "left", "baseline": "alphabetic", "clip": false},
   "encoding": {"x": {"field": "f", "type": "quantitative", "axis": null}, "y": {"field": "v", "type": "quantitative", "axis": null},
    "text": {"field": "t"},
    "color": {"field": "k", "type": "nominal", "legend": null}}}
 ]
},
{
 "width": 523, "height": 240,
 "resolve": {"axis": {"x": "independent", "y": "independent"}},
 "layer": [
  {"data": {"name": "p2x"}, "mark": {"type": "line", "strokeWidth": 1, "clip": true, "stroke": "#0000ff"},
   "encoding": {
    "x": {"field": "f", "type": "quantitative", "scale": {"domain": [0, 80], "nice": false, "zero": false},
          "axis": {"orient": "bottom", "values": [0,10,20,30,40,50,60,70,80], "title": "CM Freq. [Hz]", "tickSize": -5, "labelPadding": 11, "titlePadding": 3}},
    "y": {"field": "v", "type": "quantitative", "scale": {"type": "log", "domain": [0.001, 100], "nice": false},
          "axis": {"orient": "left", "values": [0.001,0.002,0.003,0.004,0.005,0.006,0.007,0.008,0.009,0.01,0.02,0.03,0.04,0.05,0.06,0.07,0.08,0.09,0.1,0.2,0.3,0.4,0.5,0.6,0.7,0.8,0.9,1,2,3,4,5,6,7,8,9,10,20,30,40,50,60,70,80,90,100],
           "tickSize": {"condition": {"test": "abs(log(datum.value)/LN10 - round(log(datum.value)/LN10)) < 0.01", "value": -5}, "value": -2.5},
           "labelExpr": "abs(log(datum.value)/LN10 - round(log(datum.value)/LN10)) > 0.01 ? '' : '10' + (round(log(datum.value)/LN10) == 2 ? '²' : round(log(datum.value)/LN10) == 1 ? '¹' : round(log(datum.value)/LN10) == 0 ? '⁰' : round(log(datum.value)/LN10) == -1 ? '⁻¹' : round(log(datum.value)/LN10) == -2 ? '⁻²' : '⁻³')",
           "labelPadding": 12, "title": "X&Y [μm]", "titlePadding": 5}}
   }},
  {"data": {"name": "p2y"}, "mark": {"type": "line", "strokeWidth": 1, "clip": true, "stroke": "#ff0000"},
   "encoding": {
    "x": {"field": "f", "type": "quantitative", "axis": {"orient": "top", "values": [10,20,30,40,50,60,70], "labels": false, "title": null, "tickSize": -5, "domain": false}},
    "y": {"field": "v", "type": "quantitative", "axis": {"orient": "right", "values": [0.001,0.002,0.003,0.004,0.005,0.006,0.007,0.008,0.009,0.01,0.02,0.03,0.04,0.05,0.06,0.07,0.08,0.09,0.1,0.2,0.3,0.4,0.5,0.6,0.7,0.8,0.9,1,2,3,4,5,6,7,8,9,10,20,30,40,50,60,70,80,90,100],
       "tickSize": {"condition": {"test": "abs(log(datum.value)/LN10 - round(log(datum.value)/LN10)) < 0.01", "value": -5}, "value": -2.5}, "labels": false, "title": null, "domain": false}}
   }},
  {"data": {"name": "xn"}, "mark": {"type": "line", "strokeWidth": 1, "clip": true, "stroke": "#00ffff"},
   "encoding": {"x": {"field": "f", "type": "quantitative", "axis": null}, "y": {"field": "v", "type": "quantitative", "axis": null}}},
  {"data": {"name": "yn"}, "mark": {"type": "line", "strokeWidth": 1, "clip": true, "stroke": "#ff00ff"},
   "encoding": {"x": {"field": "f", "type": "quantitative", "axis": null}, "y": {"field": "v", "type": "quantitative", "axis": null}}}
 ]
},
{
 "width": 523, "height": 240,
 "resolve": {"axis": {"x": "independent", "y": "independent"}},
 "layer": [
  {"data": {"name": "p3x"}, "mark": {"type": "line", "strokeWidth": 1, "clip": true, "stroke": "#0000ff"},
   "encoding": {
    "x": {"field": "f", "type": "quantitative", "scale": {"domain": [0, 80], "nice": false, "zero": false},
          "axis": {"orient": "bottom", "values": [0,10,20,30,40,50,60,70,80], "title": "CM Freq. [Hz]", "tickSize": -5, "labelPadding": 11, "titlePadding": 3}},
    "y": {"field": "v", "type": "quantitative", "scale": {"type": "log", "domain": [0.001, 100], "nice": false},
          "axis": {"orient": "left", "values": [0.001,0.002,0.003,0.004,0.005,0.006,0.007,0.008,0.009,0.01,0.02,0.03,0.04,0.05,0.06,0.07,0.08,0.09,0.1,0.2,0.3,0.4,0.5,0.6,0.7,0.8,0.9,1,2,3,4,5,6,7,8,9,10,20,30,40,50,60,70,80,90,100],
           "tickSize": {"condition": {"test": "abs(log(datum.value)/LN10 - round(log(datum.value)/LN10)) < 0.01", "value": -5}, "value": -2.5},
           "labelExpr": "abs(log(datum.value)/LN10 - round(log(datum.value)/LN10)) > 0.01 ? '' : '10' + (round(log(datum.value)/LN10) == 2 ? '²' : round(log(datum.value)/LN10) == 1 ? '¹' : round(log(datum.value)/LN10) == 0 ? '⁰' : round(log(datum.value)/LN10) == -1 ? '⁻¹' : round(log(datum.value)/LN10) == -2 ? '⁻²' : '⁻³')",
           "labelPadding": 12, "title": "X&Y [μm]", "titlePadding": 5}}
   }},
  {"data": {"name": "p3y"}, "mark": {"type": "line", "strokeWidth": 1, "clip": true, "stroke": "#ff0000"},
   "encoding": {
    "x": {"field": "f", "type": "quantitative", "axis": {"orient": "top", "values": [10,20,30,40,50,60,70], "labels": false, "title": null, "tickSize": -5, "domain": false}},
    "y": {"field": "v", "type": "quantitative", "axis": {"orient": "right", "values": [0.001,0.002,0.003,0.004,0.005,0.006,0.007,0.008,0.009,0.01,0.02,0.03,0.04,0.05,0.06,0.07,0.08,0.09,0.1,0.2,0.3,0.4,0.5,0.6,0.7,0.8,0.9,1,2,3,4,5,6,7,8,9,10,20,30,40,50,60,70,80,90,100],
       "tickSize": {"condition": {"test": "abs(log(datum.value)/LN10 - round(log(datum.value)/LN10)) < 0.01", "value": -5}, "value": -2.5}, "labels": false, "title": null, "domain": false}}
   }},
  {"data": {"name": "xn"}, "mark": {"type": "line", "strokeWidth": 1, "clip": true, "stroke": "#00ffff"},
   "encoding": {"x": {"field": "f", "type": "quantitative", "axis": null}, "y": {"field": "v", "type": "quantitative", "axis": null}}},
  {"data": {"name": "yn"}, "mark": {"type": "line", "strokeWidth": 1, "clip": true, "stroke": "#ff00ff"},
   "encoding": {"x": {"field": "f", "type": "quantitative", "axis": null}, "y": {"field": "v", "type": "quantitative", "axis": null}}}
 ]
}
]
}
